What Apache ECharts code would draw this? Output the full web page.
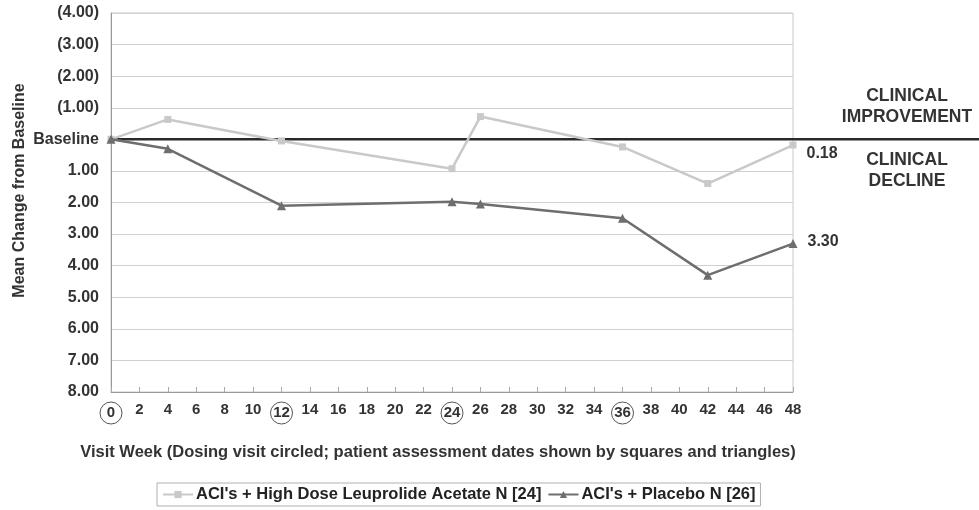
<!DOCTYPE html>
<html><head><meta charset="utf-8">
<script src="https://cdn.jsdelivr.net/npm/echarts@6/dist/echarts.min.js"></script>
<style>html,body{margin:0;padding:0;background:#fff}#c{width:979px;height:510px}</style>
</head><body><div id="c"></div>
<script>
var weeks = [0, 4, 12, 24, 26, 36, 42, 48];
var highDose = [0, -0.63, 0.05, 0.93, -0.72, 0.24, 1.4, 0.18];
var placebo = [0, 0.3, 2.1, 1.98, 2.05, 2.5, 4.3, 3.30];
var dosingWeeks = [0, 12, 24, 36];
var seriesNames = ["ACI's + High Dose Leuprolide Acetate N [24]", "ACI's + Placebo N [26]"];
var endLabelOffsets = [[0, 9], [0, -2]];

var font = 'Liberation Sans, Arial, Helvetica, sans-serif';
function seriesData(vals, k) {
  return weeks.map(function (w, i) {
    var p = [w, vals[i]];
    if (i === vals.length - 1) return { value: p, label: { show: true, position: 'right', distance: 10, offset: endLabelOffsets[k], formatter: function (d) { return d.value[1].toFixed(2); }, fontWeight: 'bold', fontSize: 16, color: '#333', fontFamily: font } };
    return p;
  });
}
var chart = echarts.init(document.getElementById('c'), null, { renderer: 'canvas' });
chart.setOption({
  animation: false,
  grid: { left: 111, right: 186, top: 13, bottom: 118, show: true, borderColor: '#c8c8c8', borderWidth: 1 },
  xAxis: {
    type: 'value', min: 0, max: 48, interval: 2,
    axisLine: { onZero: false, lineStyle: { color: '#999' } },
    axisTick: { inside: true, length: 5, lineStyle: { color: '#aaa' } },
    splitLine: { show: false },
    axisLabel: {
      margin: 10, fontWeight: 'bold', fontSize: 15, color: '#333', fontFamily: font,
      formatter: function (v) { return dosingWeeks.indexOf(v) >= 0 ? '{c|' + v + '}' : String(v); },
      rich: { c: { fontWeight: 'bold', fontSize: 15, color: '#333', fontFamily: font, borderColor: '#555', borderWidth: 1, borderRadius: 12, width: 22, height: 22, align: 'center', lineHeight: 22 } }
    }
  },
  yAxis: {
    type: 'value', inverse: true, min: -4, max: 8, interval: 1,
    axisLine: { show: true, lineStyle: { color: '#999' } },
    axisTick: { show: false },
    splitLine: { lineStyle: { color: '#d0d0d0' } },
    axisLabel: {
      margin: 12, fontWeight: 'bold', fontSize: 16, color: '#333', fontFamily: font,
      formatter: function (v) { if (v < 0) return '(' + (-v).toFixed(2) + ')'; if (v === 0) return 'Baseline'; return v.toFixed(2); }
    }
  },
  legend: {
    bottom: 4, left: 157, itemGap: 6, itemWidth: 30, itemHeight: 9,
    padding: [3, 5], borderColor: '#b0b0b0', borderWidth: 1,
    textStyle: { fontWeight: 'bold', fontSize: 16.5, color: '#222', fontFamily: font, padding: [0, 0, 0, -2] },
    data: seriesNames
  },
  series: [
    { name: seriesNames[0], type: 'line', data: seriesData(highDose, 0), symbol: 'rect', symbolSize: 7,
      lineStyle: { color: '#c9c9c9', width: 2.5 }, itemStyle: { color: '#c9c9c9' }, z: 3 },
    { name: seriesNames[1], type: 'line', data: seriesData(placebo, 1), symbol: 'triangle', symbolSize: 9,
      lineStyle: { color: '#6e6e6e', width: 2.5 }, itemStyle: { color: '#6e6e6e' }, z: 4 }
  ]
});
var p0 = chart.convertToPixel({ gridIndex: 0 }, [0, 0]);
var gl = chart.convertToPixel({ gridIndex: 0 }, [0, -4]);
var gb = chart.convertToPixel({ gridIndex: 0 }, [48, 8]);
var ts = { fontWeight: 'bold', fontSize: 17.5, fontFamily: font, fill: '#333', align: 'center', verticalAlign: 'middle', lineHeight: 21 };
function txt(s, x, y, extra) { var st = Object.assign({ text: s }, ts, extra || {}); return { type: 'text', z: 10, x: x, y: y, style: st }; }
chart.setOption({
  graphic: [
    { type: 'line', z: 2, shape: { x1: p0[0], y1: p0[1], x2: 979, y2: p0[1] }, style: { stroke: '#2a2a2a', lineWidth: 2.5 } },
    txt('CLINICAL\nIMPROVEMENT', 907, p0[1] - 33),
    txt('CLINICAL\nDECLINE', 907, p0[1] + 31),
    { type: 'text', z: 10, x: 20, y: (gl[1] + gb[1]) / 2 - 12, rotation: Math.PI / 2,
      style: { text: 'Mean Change from Baseline', fontWeight: 'bold', fontSize: 16, fontFamily: font, fill: '#333', align: 'center', verticalAlign: 'middle' } },
    { type: 'text', z: 10, x: (gl[0] + gb[0]) / 2 - 14, y: gb[1] + 60,
      style: { text: 'Visit Week (Dosing visit circled; patient assessment dates shown by squares and triangles)', fontWeight: 'bold', fontSize: 16.5, fontFamily: font, fill: '#333', align: 'center', verticalAlign: 'middle' } }
  ]
});
</script></body></html>
